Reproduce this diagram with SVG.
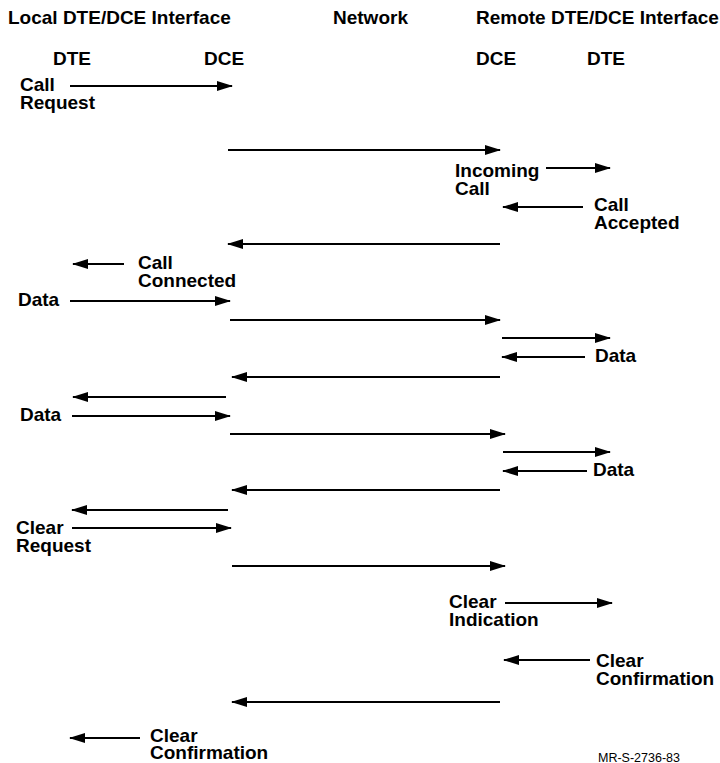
<svg xmlns="http://www.w3.org/2000/svg" width="720" height="763" viewBox="0 0 720 763">
<style>
text{font-family:"Liberation Sans",Arial,sans-serif;font-weight:bold;font-size:19px;fill:#000}
.sm{font-weight:normal;font-size:12.5px}
line{stroke:#000;stroke-width:2}
</style>
<defs>
<marker id="ah" markerUnits="userSpaceOnUse" markerWidth="16" markerHeight="10" refX="15" refY="5" orient="auto">
<path d="M0,0 L16,5 L0,10 Z" fill="#000"/>
</marker>
</defs>
<rect width="720" height="763" fill="#fff"/>
<g id="headers">
<text x="8" y="24">Local DTE/DCE Interface</text>
<text x="333" y="24">Network</text>
<text x="476" y="24">Remote DTE/DCE Interface</text>
<text x="53" y="65">DTE</text>
<text x="204" y="65">DCE</text>
<text x="476" y="65">DCE</text>
<text x="587" y="65">DTE</text>
</g>
<g id="labels">
<text x="20" y="91">Call</text><text x="20" y="109">Request</text>
<text x="455" y="177">Incoming</text><text x="455" y="195">Call</text>
<text x="594" y="211">Call</text><text x="594" y="229">Accepted</text>
<text x="138" y="269">Call</text><text x="138" y="287">Connected</text>
<text x="18" y="306">Data</text>
<text x="595" y="362">Data</text>
<text x="20" y="421">Data</text>
<text x="593" y="476">Data</text>
<text x="16" y="534">Clear</text><text x="16" y="552">Request</text>
<text x="449" y="608">Clear</text><text x="449" y="626">Indication</text>
<text x="596" y="667">Clear</text><text x="596" y="685">Confirmation</text>
<text x="150" y="742">Clear</text><text x="150" y="759">Confirmation</text>
<text class="sm" x="598" y="762">MR-S-2736-83</text>
</g>
<g id="connectors">
<line x1="70" y1="86" x2="232" y2="86" marker-end="url(#ah)"/>
<line x1="228" y1="150" x2="500" y2="150" marker-end="url(#ah)"/>
<line x1="546" y1="168" x2="610" y2="168" marker-end="url(#ah)"/>
<line x1="583" y1="207" x2="503" y2="207" marker-end="url(#ah)"/>
<line x1="500" y1="244" x2="228" y2="244" marker-end="url(#ah)"/>
<line x1="124" y1="264" x2="73" y2="264" marker-end="url(#ah)"/>
<line x1="70" y1="301" x2="230" y2="301" marker-end="url(#ah)"/>
<line x1="230" y1="320" x2="500" y2="320" marker-end="url(#ah)"/>
<line x1="502" y1="338" x2="610" y2="338" marker-end="url(#ah)"/>
<line x1="585" y1="357" x2="502" y2="357" marker-end="url(#ah)"/>
<line x1="500" y1="377" x2="232" y2="377" marker-end="url(#ah)"/>
<line x1="226" y1="397" x2="73" y2="397" marker-end="url(#ah)"/>
<line x1="72" y1="416" x2="230" y2="416" marker-end="url(#ah)"/>
<line x1="230" y1="434" x2="505" y2="434" marker-end="url(#ah)"/>
<line x1="503" y1="452" x2="610" y2="452" marker-end="url(#ah)"/>
<line x1="587" y1="471" x2="503" y2="471" marker-end="url(#ah)"/>
<line x1="500" y1="490" x2="232" y2="490" marker-end="url(#ah)"/>
<line x1="228" y1="510" x2="72" y2="510" marker-end="url(#ah)"/>
<line x1="72" y1="528" x2="231" y2="528" marker-end="url(#ah)"/>
<line x1="232" y1="566" x2="505" y2="566" marker-end="url(#ah)"/>
<line x1="505" y1="603" x2="612" y2="603" marker-end="url(#ah)"/>
<line x1="590" y1="660" x2="504" y2="660" marker-end="url(#ah)"/>
<line x1="500" y1="702" x2="232" y2="702" marker-end="url(#ah)"/>
<line x1="140" y1="738" x2="70" y2="738" marker-end="url(#ah)"/>
</g>
</svg>
